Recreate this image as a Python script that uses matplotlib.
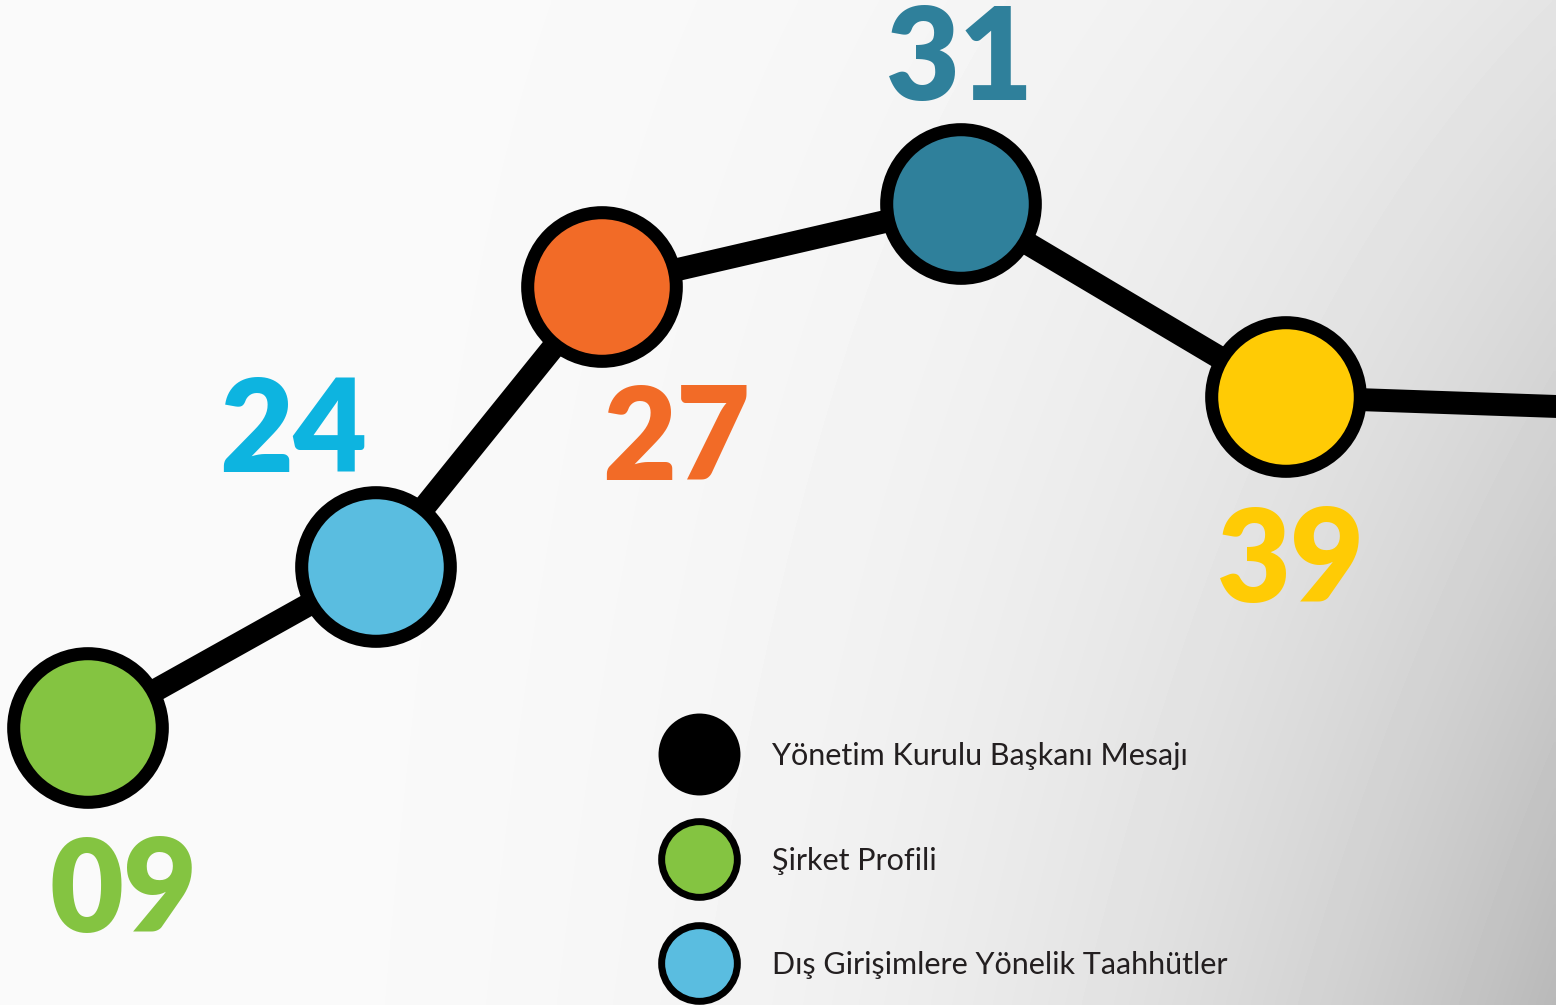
import numpy as np
import matplotlib.pyplot as plt

# page numbers along the path and section names for the legend
pages = ["09", "24", "27", "31", "39"]
path_x = [88, 376, 602, 961, 1286, 1600]
path_y = [728, 567, 287, 204, 397, 408]
point_colors = ["#84C441", "#5ABDE0", "#F26B27", "#2F809B", "#FFCB05"]
label_colors = ["#84C441", "#0DB4E0", "#F26B27", "#2F809B", "#FFCB05"]

legend_names = ["Yönetim Kurulu Başkanı Mesajı", "Şirket Profili",
                "Dış Girişimlere Yönelik Taahhütler"]
legend_colors = ["#000000", "#84C441", "#5ABDE0"]

W, H = 1556, 1005
fig = plt.figure(figsize=(W / 100, H / 100), dpi=100)
ax = fig.add_axes([0, 0, 1, 1])
ax.set_xlim(0, W)
ax.set_ylim(H, 0)
ax.axis("off")

# soft grey gradient background, darker towards the bottom right
gx, gy = np.meshgrid(np.linspace(0, 1, 400), np.linspace(0, 1, 260))
shade = 250 - gx**3 * (22 + 43 * gy)
ax.imshow(shade / 255, cmap="gray", vmin=0, vmax=1, extent=[0, W, H, 0],
          aspect="auto", zorder=0, interpolation="bilinear")

# connecting line and circles
ax.plot(path_x, path_y, color="black", lw=16.5, solid_capstyle="butt", zorder=2)
ax.scatter(path_x[:len(pages)], path_y[:len(pages)], s=107**2, c=point_colors,
           edgecolors="black", linewidths=9.4, zorder=3)

# page number labels (offset from the circles, baseline anchored)
label_dx = [36, -83, 74, -1, 5]
label_dy = [204, -95, 193, -104, 205]
for i, p in enumerate(pages):
    ax.text(path_x[i] + label_dx[i], path_y[i] + label_dy[i], p,
            color=label_colors[i], fontsize=92, fontweight="heavy",
            family="Lato", ha="center", va="baseline", zorder=4)

# legend
leg_x, leg_y0, leg_step = 699, 754, 104.5
for i, name in enumerate(legend_names):
    y = leg_y0 + i * leg_step
    ew = 0 if legend_colors[i] == "#000000" else 5
    ax.scatter([leg_x], [y], s=(59 - ew * 0.9) ** 2 if ew else 59**2,
               c=legend_colors[i], edgecolors="black", linewidths=ew, zorder=3)
    ax.text(772, y + 11, name, fontsize=22, family="Lato", color="#231F20",
            ha="left", va="baseline", zorder=4)

fig.savefig("out.png", dpi=100)
